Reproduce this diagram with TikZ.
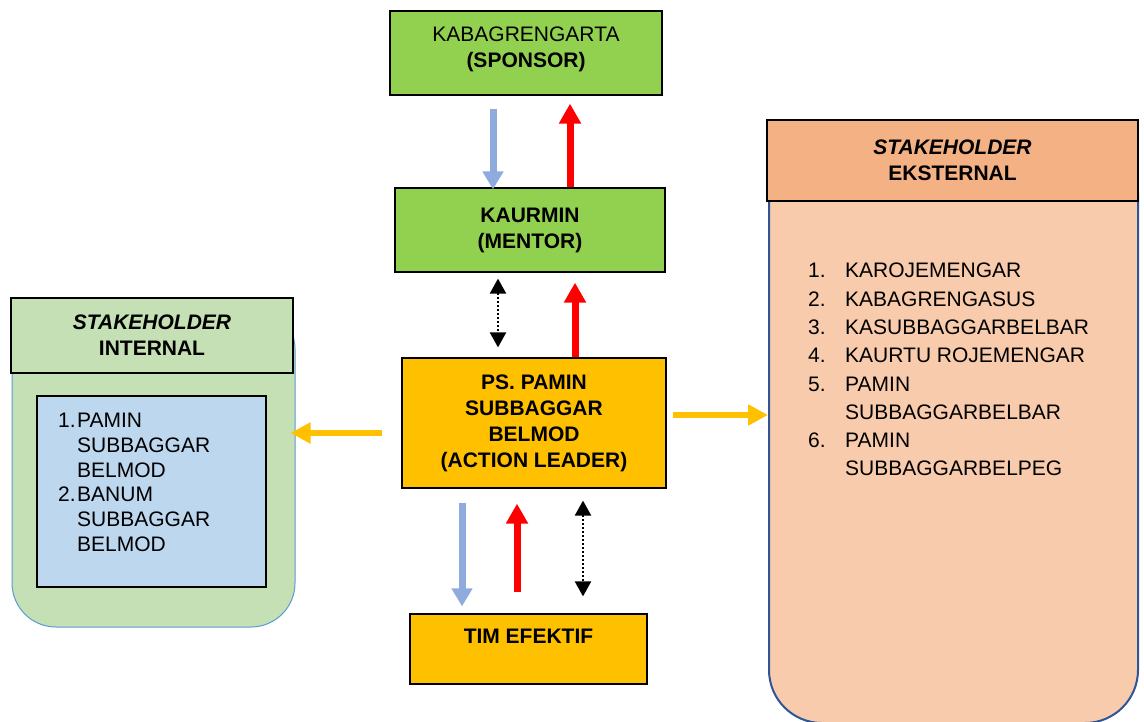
\documentclass[tikz,border=0pt]{standalone}
\usepackage{fontspec}
\setmainfont{Liberation Sans}
\usepackage{xcolor}
\usepackage{tikz}
\usetikzlibrary{arrows.meta,calc}
\definecolor{spongreen}{HTML}{92D050}
\definecolor{leadgold}{HTML}{FFC000}
\definecolor{intgreen}{HTML}{C5E0B4}
\definecolor{intblue}{HTML}{BDD7EE}
\definecolor{intedge}{HTML}{5B9BD5}
\definecolor{exthead}{HTML}{F4B183}
\definecolor{extbody}{HTML}{F8CBAD}
\definecolor{extedge}{HTML}{2F5597}
\definecolor{downblue}{HTML}{8FAADC}
\newcommand{\bigtxt}{\fontsize{21}{26}\selectfont}
\tikzset{
  box/.style      ={draw=black, line width=1.2pt, align=center, font=\bigtxt\bfseries,
                    inner sep=0pt},
  panel/.style    ={rectangle, line width=1pt, inner sep=0pt},
  lst/.style      ={align=left, inner sep=0pt, anchor=north west},
  redup/.style    ={draw=red, line width=7pt, -{Triangle[length=20pt,width=21pt]}},
  bluedown/.style ={draw=downblue, line width=7pt, -{Triangle[length=18pt,width=20pt]}},
  goldside/.style ={draw=leadgold, line width=6pt, -{Triangle[length=20pt,width=20pt]}},
  dotpair/.style  ={draw=black, line width=2.2pt, dash pattern=on 2pt off 2pt,
                    {Triangle[length=15pt,width=16pt]}-{Triangle[length=15pt,width=16pt]}},
}

\begin{document}
\begin{tikzpicture}[x=1pt,y=-1pt]
  \useasboundingbox (0,0) rectangle (1144,722);

  % ---------------- centre column ---------------------------------------------
  \node[box,fill=spongreen,minimum width=272pt,minimum height=84pt] (spon) at (526,53)
        {{\mdseries KABAGRENGARTA}\\(SPONSOR)\\[-14pt]\mbox{}};
  \node[box,fill=spongreen,minimum width=270pt,minimum height=84pt] (ment) at (530,230)
        {KAURMIN\\(MENTOR)};
  \node[box,fill=leadgold,minimum width=264pt,minimum height=130pt] (lead) at (534,423)
        {PS. PAMIN\\SUBBAGGAR\\BELMOD\\(ACTION LEADER)};
  \node[box,fill=leadgold,minimum width=237pt,minimum height=70pt] (tim) at (528.5,649)
        {TIM EFEKTIF\\\mbox{}};

  % ---------------- stakeholder internal --------------------------------------
  \node[panel,draw=intedge,fill=intgreen,rounded corners=44pt,
        minimum width=283pt,minimum height=322pt] (intl) at (153.5,466) {};
  \node[box,fill=intgreen,minimum width=282pt,minimum height=75pt] (ihead) at (152,335.5)
        {\textit{STAKEHOLDER}\\INTERNAL};
  \node[box,fill=intblue,minimum width=229pt,minimum height=191pt] (ibox) at (151.5,491.5) {};
  \node[lst,font=\fontsize{21}{24.7}\selectfont] (ilist) at (58,413)
        {\makebox[19pt][l]{1.}PAMIN\\\hspace*{19pt}SUBBAGGAR\\\hspace*{19pt}BELMOD\\
         \makebox[19pt][l]{2.}BANUM\\\hspace*{19pt}SUBBAGGAR\\\hspace*{19pt}BELMOD};

  % ---------------- stakeholder eksternal -------------------------------------
  \node[panel,draw=extedge,line width=2pt,fill=extbody,rounded corners=53pt,
        minimum width=369pt,minimum height=583pt] (extl) at (953.5,431.5) {};
  \node[box,fill=exthead,minimum width=371pt,minimum height=81pt] (ehead) at (952.5,160.5)
        {\textit{STAKEHOLDER}\\EKSTERNAL};
  \node[lst,font=\fontsize{21}{28.3}\selectfont] (elist) at (808,263)
        {\makebox[37pt][l]{1.}KAROJEMENGAR\\
         \makebox[37pt][l]{2.}KABAGRENGASUS\\
         \makebox[37pt][l]{3.}KASUBBAGGARBELBAR\\
         \makebox[37pt][l]{4.}KAURTU ROJEMENGAR\\
         \makebox[37pt][l]{5.}PAMIN\\\hspace*{37pt}SUBBAGGARBELBAR\\
         \makebox[37pt][l]{6.}PAMIN\\\hspace*{37pt}SUBBAGGARBELPEG};

  % ---------------- arrows ----------------------------------------------------
  \draw[bluedown] ($(spon.south)+(-33,13)$) -- ($(ment.north)+(-37,2)$);
  \draw[redup]    ($(ment.north)+(40,0)$)   -- ($(spon.south)+(44,8)$);
  \draw[dotpair]  ($(ment.south)+(-32,6)$)  -- ($(lead.north)+(-36,-10)$);
  \draw[redup]    ($(lead.north)+(41,0)$)   -- ($(ment.south)+(45,10)$);
  \draw[bluedown] ($(lead.south)+(-72,14)$) -- ($(tim.north)+(-66.5,-7)$);
  \draw[redup]    ($(tim.north)+(-11.5,-21)$) -- ($(lead.south)+(-17,15)$);
  \draw[dotpair]  ($(lead.south)+(49,12)$)  -- ($(tim.north)+(54.5,-17)$);
  \draw[goldside] ($(lead.west)+(-19,10)$)  -- ($(intl.east)+(-5,-33)$);
  \draw[goldside] ($(lead.east)+(6,-8)$)    -- ($(extl.west)+(0,-16.5)$);
\end{tikzpicture}
\end{document}
